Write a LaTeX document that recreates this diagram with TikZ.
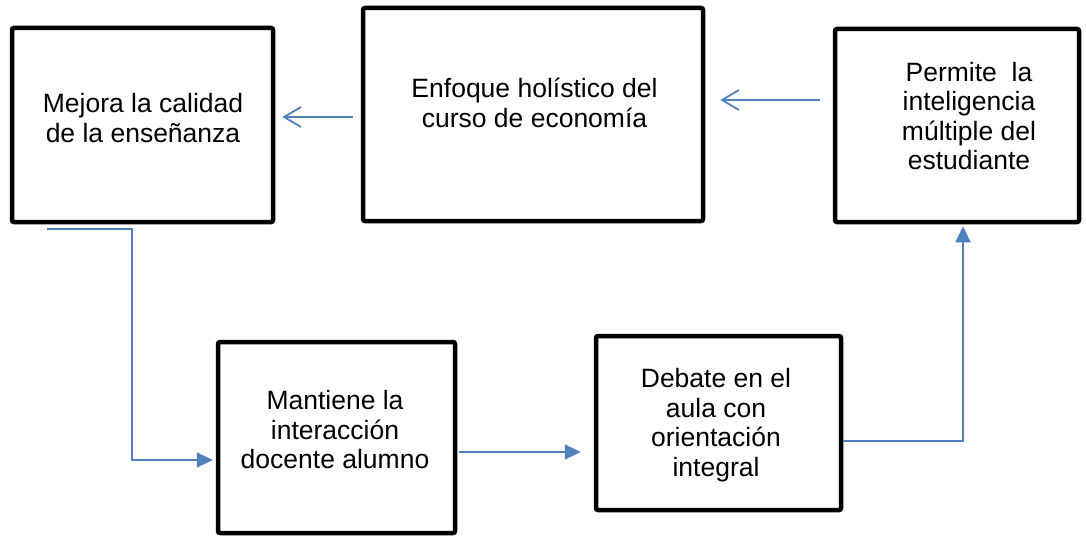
\documentclass[tikz,border=0pt]{standalone}
\usepackage{fontspec}
\setmainfont{Liberation Sans}
\usetikzlibrary{calc, arrows.meta}

\definecolor{flowblue}{HTML}{4F81BD}

\tikzset{
    box/.style={draw, line width=4.5, rounded corners=2, inner sep=0, minimum width=#1},
    boxtext/.style={align=center, inner sep=0, font=\fontsize{26.5}{29.5}\selectfont},
    flow-open/.style={draw=flowblue, line width=1.8, -{Straight Barb[length=17, width=20, line width=1.8]}},
    flow-fill/.style={draw=flowblue, line width=1.8, -{Triangle[length=16, width=15]}}
}

\begin{document}
\begin{tikzpicture}[x=1pt, y=-1pt]
\useasboundingbox (0,0) rectangle (1086,535);

% Boxes
\draw (142.5, 125) node[box=261, minimum height=194] (mejora) {};
\draw (533, 114.5) node[box=340, minimum height=213] (enfoque) {};
\draw (957, 125.5) node[box=244, minimum height=193] (permite) {};
\draw (336.5, 437.5) node[box=237, minimum height=191] (mantiene) {};
\draw (718.5, 423) node[box=245, minimum height=174] (debate) {};

% Texts
\node[boxtext] (mejora-text) at (143, 118) {Mejora la calidad\\de la enseñanza};
\node[boxtext] (enfoque-text) at (534.5, 103) {Enfoque holístico del\\curso de economía};
\node[boxtext] (permite-text) at (969, 116) {Permite\ \ la\\inteligencia\\múltiple del\\estudiante};
\node[boxtext] (mantiene-text) at (335, 430) {Mantiene la\\interacción\\docente alumno};
\node[boxtext] (debate-text) at (716, 425) {Debate en el\\aula con\\orientación\\integral};

% Arrows
\coordinate (mejora-out) at (47, 229);

\draw[flow-open, shorten <=13, shorten >=15] (permite.west |- 0,100) -- (enfoque.east |- 0,100);
\draw[flow-open, shorten <=8, shorten >=7] (enfoque.west |- 0,117) -- (mejora.east |- 0,117);
\draw[flow-fill, shorten >=3] (mejora-out) -- ++(85,0) |- (mantiene.west |- 0,460);
\draw[flow-fill, shorten <=2, shorten >=13] (mantiene.east |- 0,452) -- (debate.west |- 0,452);
\draw[flow-fill, shorten >=2] (debate.east |- 0,441) -| ([xshift=6]permite.south);
\end{tikzpicture}
\end{document}
